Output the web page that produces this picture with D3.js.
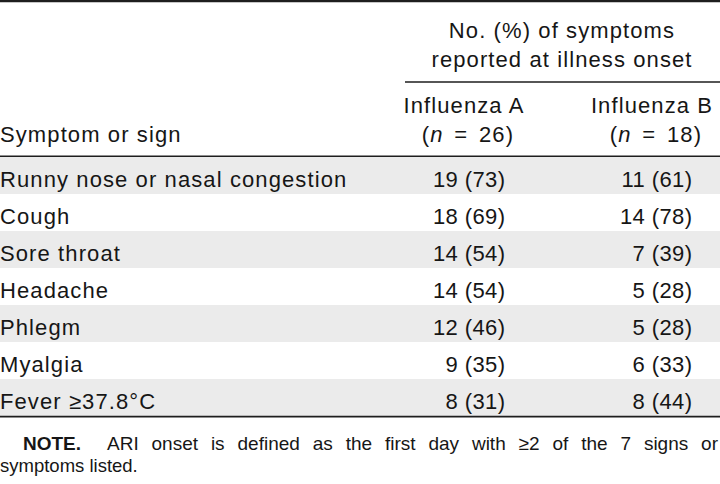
<!DOCTYPE html>
<html>
<head>
<meta charset="utf-8">
<script src="https://cdn.jsdelivr.net/npm/d3@7"></script>
<style>
  html, body { margin: 0; padding: 0; background: #fff; }
  svg { display: block; }
  text { font-family: "Liberation Sans", Arial, sans-serif; fill: #161616; }
</style>
</head>
<body>
<svg id="chart" width="720" height="484"></svg>
<script>
// ---- data ----
const symptoms = [
  "Runny nose or nasal congestion",
  "Cough",
  "Sore throat",
  "Headache",
  "Phlegm",
  "Myalgia",
  "Fever \u226537.8\u00B0C"
];
const countsA = [19, 18, 14, 14, 12, 9, 8];
const pctA    = [73, 69, 54, 54, 46, 35, 31];
const countsB = [11, 14, 7, 5, 5, 6, 8];
const pctB    = [61, 78, 39, 28, 28, 33, 44];
const groups = ["Influenza A", "Influenza B"];
const groupN = [26, 18];
const spanHeader = ["No. (%) of symptoms", "reported at illness onset"];
const stubHeader = "Symptom or sign";
const noteLabel = "NOTE.";
const noteLines = ["ARI onset is defined as the first day with \u22652 of the 7 signs or", "symptoms listed."];

// ---- layout ----
const W = 720, H = 484;
const svg = d3.select("#chart");
const fs = 22, ls = 1.1;

const y = d3.scaleBand().domain(symptoms).range([157, 416]).paddingInner(0).paddingOuter(0);
const colRight = d3.scaleOrdinal().domain(groups).range([505, 692]);
const colCenter = d3.scaleOrdinal().domain(groups).range([464, 652]);

// shaded rows
svg.append("g").selectAll("rect")
  .data(symptoms.filter((d, i) => i % 2 === 0))
  .join("rect")
  .attr("x", 0).attr("width", W)
  .attr("y", d => y(d)).attr("height", y.bandwidth())
  .attr("fill", "#ebebeb");

// rules
const rule = (x1, x2, yy, w) => svg.append("line")
  .attr("x1", x1).attr("x2", x2).attr("y1", yy).attr("y2", yy)
  .attr("stroke", "#1e1e1e").attr("stroke-width", w);
rule(0, W, 1, 2.4);
rule(405, W, 82, 1.6);
rule(0, W, 156.2, 1.6);
rule(0, W, 416.6, 1.8);

const txt = (s, x, yy, anchor) => svg.append("text")
  .attr("x", x).attr("y", yy)
  .attr("text-anchor", anchor || "start")
  .style("font-size", fs + "px")
  .style("letter-spacing", ls + "px")
  .text(s);

// spanning header
txt(spanHeader[0], 562, 38, "middle");
txt(spanHeader[1], 562, 67, "middle");

// group headers
groups.forEach((g, k) => {
  txt(g, colCenter(g), 113, "middle");
  const t = svg.append("text")
    .attr("x", colCenter(g) + 4).attr("y", 142)
    .attr("text-anchor", "middle")
    .style("font-size", fs + "px")
    .style("letter-spacing", ls + "px")
    .style("word-spacing", "3.5px");
  t.append("tspan").text("(");
  t.append("tspan").style("font-style", "italic").text("n");
  t.append("tspan").text(" = " + groupN[k] + ")");
});
txt(stubHeader, 0, 142);

// body rows
const rows = svg.append("g").selectAll("g")
  .data(symptoms.map((s, i) => ({s, a: countsA[i] + " (" + pctA[i] + ")", b: countsB[i] + " (" + pctB[i] + ")"})))
  .join("g")
  .attr("transform", d => `translate(0,${y(d.s) + y.bandwidth() / 2 + 11})`);

rows.append("text").attr("x", 0)
  .style("font-size", fs + "px").style("letter-spacing", ls + "px")
  .text(d => d.s);
rows.append("text").attr("x", colRight(groups[0]) + 0.4).attr("text-anchor", "end")
  .style("font-size", fs + "px").style("letter-spacing", "0.4px")
  .text(d => d.a);
rows.append("text").attr("x", colRight(groups[1]) + 0.4).attr("text-anchor", "end")
  .style("font-size", fs + "px").style("letter-spacing", "0.4px")
  .text(d => d.b);

// note
svg.append("text").attr("x", 23).attr("y", 450)
  .style("font-size", "19px").style("font-weight", "bold")
  .text(noteLabel);
const line1 = svg.append("text").attr("x", 107).attr("y", 450)
  .style("font-size", "19px")
  .text(noteLines[0]);
// justify first note line by widening word gaps
const natural = line1.node().getComputedTextLength();
const nSpaces = (noteLines[0].match(/ /g) || []).length;
line1.style("word-spacing", Math.max(0, (611 - natural) / nSpaces) + "px");
svg.append("text").attr("x", 0).attr("y", 472)
  .style("font-size", "18.5px")
  .text(noteLines[1]);
</script>
</body>
</html>
